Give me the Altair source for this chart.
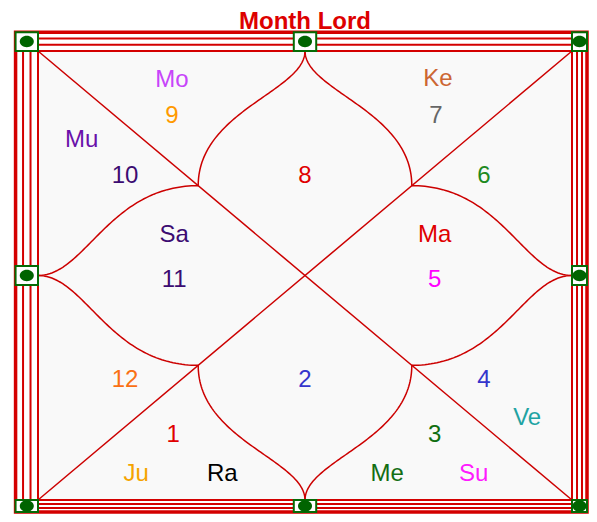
import altair as alt
import numpy as np
import pandas as pd

# ---------------- content ----------------
title_text = "Month Lord"

labels = ["Mo", "9", "Ke", "7", "Mu", "10", "8", "6", "Sa", "11", "Ma", "5",
          "12", "2", "4", "Ve", "1", "3", "Ju", "Ra", "Me", "Su"]
label_colors = ["#c745fa", "#ff9a00", "#cc6633", "#666666", "#6a11aa", "#3c0c72",
                "#e00000", "#1f8a1f", "#3c0c72", "#3c0c72", "#e00000", "#ff00ff",
                "#fa7014", "#3535cc", "#3535cc", "#1fa3a3", "#e00000", "#0f6e0f",
                "#f5a300", "#000000", "#146e14", "#ff1aff"]
# anchor of each label in units of the inner square (0..1, y downward)
label_x = [0.251, 0.251, 0.749, 0.745, 0.082, 0.163, 0.500, 0.835, 0.255, 0.255,
           0.743, 0.743, 0.163, 0.500, 0.835, 0.916, 0.253, 0.743, 0.184, 0.345,
           0.654, 0.816]
label_y = [0.080, 0.160, 0.078, 0.160, 0.214, 0.294, 0.294, 0.294, 0.425, 0.526,
           0.425, 0.526, 0.748, 0.748, 0.748, 0.833, 0.871, 0.871, 0.958, 0.958,
           0.958, 0.958]

# ---------------- geometry (inner square units) ----------------
JUNCTION = 0.3
CTRL_NEAR = 0.089
CTRL_FAR = 0.167
# ring offsets outside the inner square on each side (last = outer thick line)
OFF_LEFT = [0.0, 0.014, 0.028, 0.042]
OFF_TOP = [0.0, 0.014, 0.028, 0.042]
OFF_RIGHT = [0.0, 0.0094, 0.0187, 0.0281]
OFF_BOTTOM = [0.0, 0.0089, 0.0178, 0.0267]

W, H = 581, 506
xs = alt.Scale(domain=[-30 / 534, (W - 30) / 534], nice=False, zero=False)
ys = alt.Scale(domain=[-43 / 449, (H - 43) / 449], nice=False, zero=False, reverse=True)


def X(f="x"):
    return alt.X(f, type="quantitative", scale=xs, axis=None)


def Y(f="y"):
    return alt.Y(f, type="quantitative", scale=ys, axis=None)


# inner background
bg_df = pd.DataFrame({"x": [0.0], "x2": [1.0], "y": [0.0], "y2": [1.0]})
bg = alt.Chart(bg_df).mark_rect(fill="#f9f9f9", strokeWidth=0).encode(
    x=X(), x2="x2", y=Y(), y2="y2")

# frame rings
ring_df = pd.DataFrame({"x": [-d for d in OFF_LEFT[:3]], "x2": [1 + d for d in OFF_RIGHT[:3]],
                        "y": [-d for d in OFF_TOP[:3]], "y2": [1 + d for d in OFF_BOTTOM[:3]]})
rings = alt.Chart(ring_df).mark_rect(filled=False, stroke="#d40000", strokeWidth=2).encode(
    x=X(), x2="x2", y=Y(), y2="y2")
outer_df = pd.DataFrame({"x": [-OFF_LEFT[3]], "x2": [1 + OFF_RIGHT[3]],
                         "y": [-OFF_TOP[3]], "y2": [1 + OFF_BOTTOM[3]]})
outer = alt.Chart(outer_df).mark_rect(filled=False, stroke="#d40000", strokeWidth=3.5).encode(
    x=X(), x2="x2", y=Y(), y2="y2")

# diagonals
diag_df = pd.DataFrame({"x": [0.0, 1.0], "y": [0.0, 0.0], "x2": [1.0, 0.0], "y2": [1.0, 1.0]})
diags = alt.Chart(diag_df).mark_rule(color="#cc0000", strokeWidth=1.5).encode(
    x=X(), y=Y(), x2="x2", y2="y2")

# curved house boundaries (cubic Bezier from side midpoint to diagonal junction)
J = JUNCTION
sides = [
    ((0.5, 0.0), (0.0, 1.0), [(J, J), (1 - J, J)]),
    ((0.5, 1.0), (0.0, -1.0), [(J, 1 - J), (1 - J, 1 - J)]),
    ((0.0, 0.5), (1.0, 0.0), [(J, J), (J, 1 - J)]),
    ((1.0, 0.5), (-1.0, 0.0), [(1 - J, J), (1 - J, 1 - J)]),
]
rows = []
t = np.linspace(0, 1, 80)
cid = 0
for m, nrm, ends in sides:
    for e in ends:
        p0 = np.array(m)
        p1 = p0 + CTRL_NEAR * np.array(nrm)
        p3 = np.array(e)
        p2 = p3 - CTRL_FAR * np.array(nrm)
        for i, tt in enumerate(t):
            pt = ((1 - tt) ** 3) * p0 + 3 * ((1 - tt) ** 2) * tt * p1 + 3 * (1 - tt) * tt ** 2 * p2 + tt ** 3 * p3
            rows.append({"c": cid, "i": i, "x": pt[0], "y": pt[1]})
        cid += 1
curve_df = pd.DataFrame(rows)
curves = alt.Chart(curve_df).mark_line(color="#cc0000", strokeWidth=1.5).encode(
    x=X(), y=Y(), detail="c:N", order="i:Q")

# green markers on the frame
xb = [(-OFF_LEFT[3], 0.0), (0.5 - 0.021, 0.5 + 0.021), (1.0, 1 + OFF_RIGHT[3])]
yb = [(-OFF_TOP[3], 0.0), (0.5 - 0.021, 0.5 + 0.021), (1.0, 1 + OFF_BOTTOM[3])]
sq = []
for i, (x0, x1) in enumerate(xb):
    for j, (y0, y1) in enumerate(yb):
        if i == 1 and j == 1:
            continue
        sq.append((x0, x1, y0, y1))
sq_df = pd.DataFrame({"x": [s[0] for s in sq], "x2": [s[1] for s in sq],
                      "y": [s[2] for s in sq], "y2": [s[3] for s in sq],
                      "cx": [(s[0] + s[1]) / 2 for s in sq], "cy": [(s[2] + s[3]) / 2 for s in sq]})
squares = alt.Chart(sq_df).mark_rect(fill="white", stroke="#056b05", strokeWidth=2).encode(
    x=X(), x2="x2", y=Y(), y2="y2")
ellipse_path = "M -1 0 A 1 0.82 0 1 0 1 0 A 1 0.82 0 1 0 -1 0 Z"
dots = alt.Chart(sq_df).mark_point(shape=ellipse_path, filled=True, fill="#006400",
                                   size=196, strokeWidth=0, opacity=1).encode(
    x=X("cx"), y=Y("cy"))

# labels
lab_df = pd.DataFrame({"label": labels, "color": label_colors, "x": label_x, "y": label_y})
texts = alt.Chart(lab_df).mark_text(font="Liberation Sans", fontSize=24, baseline="alphabetic",
                                    align="center").encode(
    x=X(), y=Y(), text="label:N", color=alt.Color("color:N", scale=None))

title_df = pd.DataFrame({"label": [title_text], "x": [0.5], "y": [-0.0479]})
title = alt.Chart(title_df).mark_text(font="Liberation Sans", fontSize=24, fontWeight="bold",
                                      color="#dd0000", baseline="alphabetic", align="center").encode(
    x=X(), y=Y(), text="label:N")

chart = alt.layer(bg, rings, outer, diags, curves, squares, dots, texts, title).properties(
    width=W, height=H, padding=0, background="white",
    autosize=alt.AutoSizeParams(type="none"),
).configure_view(strokeWidth=0)

chart.save("out.html", embed_options={"renderer": "svg", "actions": False})
